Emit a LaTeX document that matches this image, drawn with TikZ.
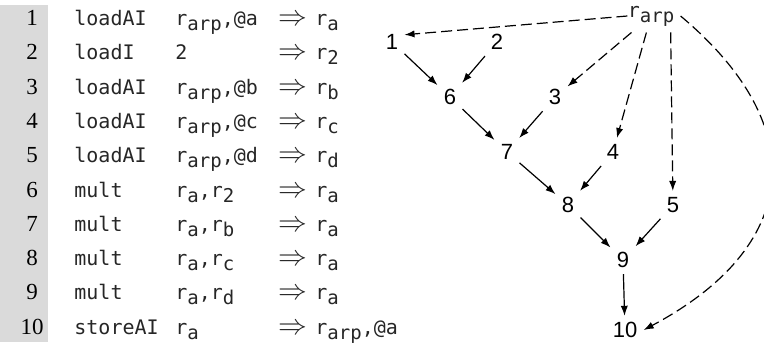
\documentclass[tikz,border=0pt]{standalone}
\usepackage{fontspec}
\setmainfont{Liberation Serif}
\setmonofont{DejaVu Sans Mono}
\newfontfamily\graphfont{Liberation Sans}
\usepackage{tikz}
\usetikzlibrary{arrows.meta}
\definecolor{lnband}{HTML}{DADADA}
% register with subscript
\newcommand\rs[1]{r\raisebox{-2.5pt}{\fontsize{9.5}{9.5}\selectfont #1}}
\tikzset{
  lnum/.style  = {font=\fontsize{11.5}{12}\selectfont,anchor=base,inner sep=0pt},
  code/.style  = {font=\ttfamily\fontsize{10}{12}\selectfont,anchor=base west,
                  inner sep=0pt,text=black!85},
  gnode/.style = {font=\graphfont\fontsize{11}{12}\selectfont,inner sep=3pt},
  dep/.style   = {-{Latex[length=5pt,width=3.6pt]},line width=0.6pt},
  ldep/.style  = {dep,dash pattern=on 5.5pt off 2.5pt},
}

\begin{document}
\begin{tikzpicture}[x=0.5pt,y=0.5pt]
  \useasboundingbox (0,0) rectangle (764,-342);
  \fill[lnband] (0,-5) rectangle (48,-342);
  % the code
  \foreach \i/\op/\args/\dst in {1/loadAI/{\rs{arp},@a}/{\rs{a}},
                                 2/loadI/{2}/{\rs{2}},
                                 3/loadAI/{\rs{arp},@b}/{\rs{b}},
                                 4/loadAI/{\rs{arp},@c}/{\rs{c}},
                                 5/loadAI/{\rs{arp},@d}/{\rs{d}},
                                 6/mult/{\rs{a},\rs{2}}/{\rs{a}},
                                 7/mult/{\rs{a},\rs{b}}/{\rs{a}},
                                 8/mult/{\rs{a},\rs{c}}/{\rs{a}},
                                 9/mult/{\rs{a},\rs{d}}/{\rs{a}},
                                 10/storeAI/{\rs{a}}/{\rs{arp},@a}}{
    \pgfmathsetmacro{\yb}{-25.5-34.3*(\i-1)}
    \node[lnum] (n\i) at (32,\yb) {\i};
    \node[code] (op\i) at (74,\yb) {\op};
    \node[code] (arg\i) at (175,\yb) {\args};
    \node[code,font=\fontsize{14}{14}\selectfont] (to\i) at (278,\yb) {$\Rightarrow$};
    \node[code] (dst\i) at (315,\yb) {\dst};
  }
  % the dependence graph
  \node[gnode,font=\ttfamily\fontsize{10}{12}\selectfont,text=black!85] (arp) at (651,-16) {\rs{arp}};
  \node[gnode] (g1) at (392,-42) {1};
  \node[gnode] (g2) at (497,-42) {2};
  \node[gnode] (g6) at (450,-97) {6};
  \node[gnode] (g3) at (555,-97) {3};
  \node[gnode] (g7) at (507,-152) {7};
  \node[gnode] (g4) at (613,-152) {4};
  \node[gnode] (g8) at (568,-205) {8};
  \node[gnode] (g5) at (673,-205) {5};
  \node[gnode] (g9) at (623,-260) {9};
  \node[gnode] (g10) at (625,-330) {10};
  \draw[dep] (g1) -- (g6);
  \draw[dep] (g2) -- (g6);
  \draw[dep] (g6) -- (g7);
  \draw[dep] (g3) -- (g7);
  \draw[dep] (g7) -- (g8);
  \draw[dep] (g4) -- (g8);
  \draw[dep] (g8) -- (g9);
  \draw[dep] (g5) -- (g9);
  \draw[dep] (g9) -- (g10);
  \draw[ldep] ([xshift=3pt]arp.west) -- (g1.30);
  \draw[ldep] (arp) -- (g3);
  \draw[ldep] (arp) -- (g4);
  \draw[ldep] (arp.-40) -- (g5);
  \draw[ldep] (arp.east) to[out=-40,in=28,looseness=1.42] (g10.east);
\end{tikzpicture}
\end{document}
